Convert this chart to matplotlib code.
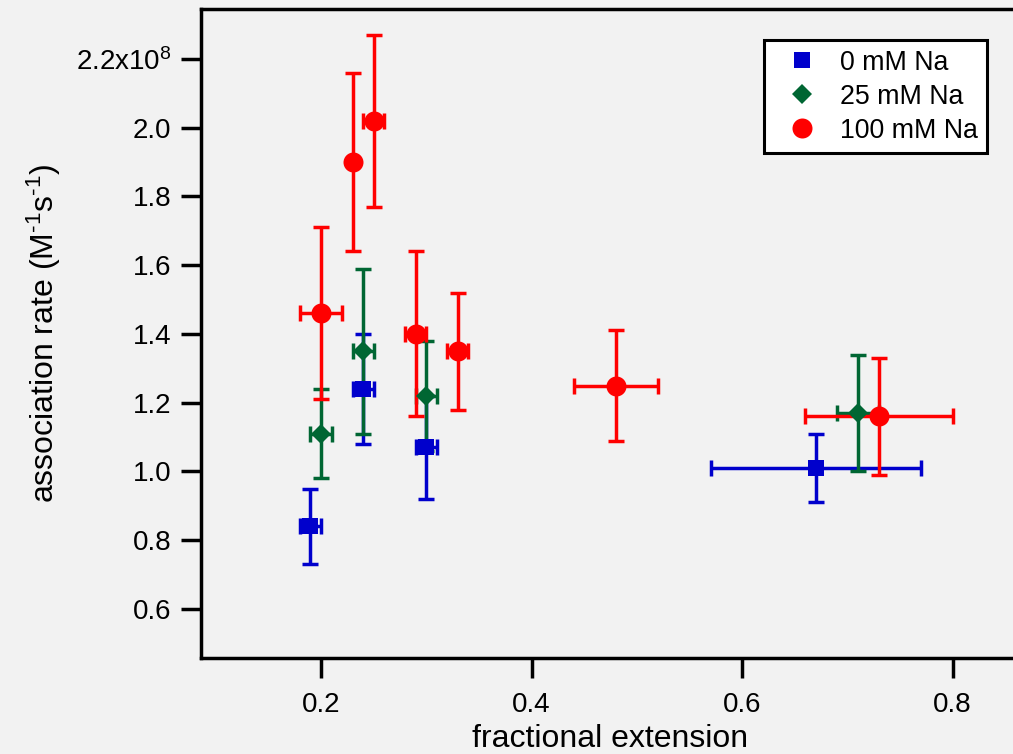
import numpy as np
import matplotlib
matplotlib.use('Agg')
import matplotlib.pyplot as plt
from matplotlib.lines import Line2D

plt.rcParams['font.family'] = ['Liberation Sans', 'DejaVu Sans']
plt.rcParams['mathtext.default'] = 'regular'

# 0 mM Na
x0 = [0.19, 0.24, 0.30, 0.67]
y0 = [0.84, 1.24, 1.07, 1.01]
x0err = [0.01, 0.01, 0.01, 0.10]
y0err = [0.11, 0.16, 0.15, 0.10]

# 25 mM Na
x25 = [0.20, 0.24, 0.30, 0.71]
y25 = [1.11, 1.35, 1.22, 1.17]
x25err = [0.01, 0.01, 0.01, 0.02]
y25err = [0.13, 0.24, 0.16, 0.17]

# 100 mM Na
x100 = [0.20, 0.23, 0.25, 0.29, 0.33, 0.48, 0.73]
y100 = [1.46, 1.90, 2.02, 1.40, 1.35, 1.25, 1.16]
x100err = [0.02, 0.0, 0.01, 0.01, 0.01, 0.04, 0.07]
y100err = [0.25, 0.26, 0.25, 0.24, 0.17, 0.16, 0.17]

yticks = [0.6, 0.8, 1.0, 1.2, 1.4, 1.6, 1.8, 2.0, 2.2]
ytick_labels = ['0.6', '0.8', '1.0', '1.2', '1.4', '1.6', '1.8', '2.0', '2.2x10$^{8}$']
xticks = [0.2, 0.4, 0.6, 0.8]
xtick_labels = ['0.2', '0.4', '0.6', '0.8']

bg = '#f2f2f2'
series = [
    (x0, y0, x0err, y0err, 's', '#0000cc', 11.5, '0 mM Na'),
    (x25, y25, x25err, y25err, 'D', '#006633', 10.2, '25 mM Na'),
    (x100, y100, x100err, y100err, 'o', '#ff0000', 14.4, '100 mM Na'),
]

fig = plt.figure(figsize=(10.13, 7.54), dpi=100, facecolor=bg)
ax = fig.add_axes([201 / 1013, 96 / 754, 818 / 1013, 649 / 754])
ax.set_facecolor(bg)

handles = []
for xs, ys, xe, ye, mk, col, ms, lab in series:
    eb = ax.errorbar(xs, ys, xerr=xe, yerr=ye, fmt=mk, color=col, ms=ms,
                     elinewidth=2.5, capsize=5.8, capthick=2.5)
    eb[0].set_markeredgewidth(0)
    handles.append(Line2D([], [], ls='none', marker=mk, color=col, ms=ms, mew=0, label=lab))

ax.set_xlim(0.086, 0.863)
ax.set_ylim(0.4575, 2.345)
ax.set_xticks(xticks)
ax.set_xticklabels(xtick_labels)
ax.set_yticks(yticks)
ax.set_yticklabels(ytick_labels)

for s in ax.spines.values():
    s.set_linewidth(2.5)
ax.tick_params(direction='out', length=14.4, width=2.5, labelsize=20, color='black')
ax.tick_params(axis='x', pad=10)
ax.tick_params(axis='y', pad=7)

ax.set_xlabel('fractional extension', fontsize=23)
ax.set_ylabel('association rate (M$^{\u20101}$s$^{\u20101}$)', fontsize=23)
ax.xaxis.set_label_coords(0.5, -0.102)
ax.yaxis.set_label_coords(-0.1687, 0.5)

leg = ax.legend(handles=handles, loc='upper right', bbox_to_anchor=(0.961, 0.952),
                borderaxespad=0, fontsize=19.3, frameon=True, fancybox=False,
                framealpha=1, facecolor='white', edgecolor='black',
                labelspacing=0.3, handlelength=2.1, handletextpad=0.38,
                borderpad=0.35)
leg.get_frame().set_linewidth(2.2)

fig.savefig('out.png', dpi=100, facecolor=bg)
